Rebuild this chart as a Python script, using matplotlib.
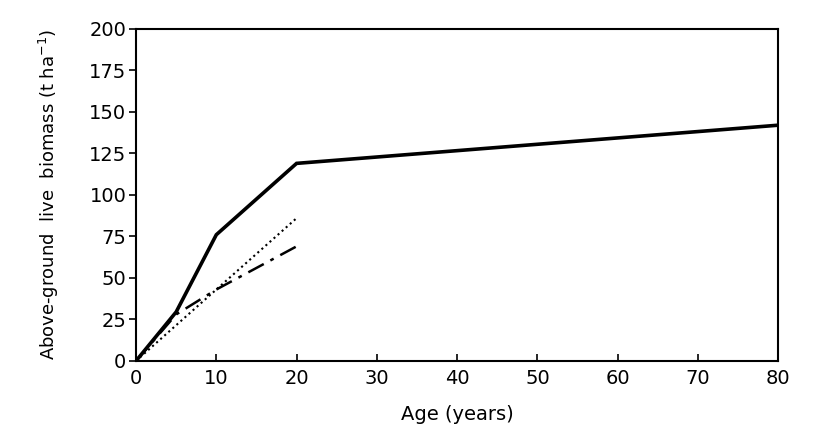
import matplotlib
matplotlib.use('Agg')
import matplotlib.pyplot as plt

# Data
age_total = [0, 5, 10, 20, 80]
biomass_total = [0, 29.5, 76, 119, 142]

age_dotted = [0, 20]
biomass_dotted = [0, 86]

age_dashdot = [0, 5, 10, 20]
biomass_dashdot = [0, 28, 43, 69]

xticks = [0, 10, 20, 30, 40, 50, 60, 70, 80]
yticks = [0, 25, 50, 75, 100, 125, 150, 175, 200]

plt.rcParams['font.family'] = ['DejaVu Sans']

fig = plt.figure(figsize=(8.33, 4.45), dpi=100)
ax = fig.add_axes([0.1633, 0.189, 0.771, 0.746])

ax.plot(age_total, biomass_total, color='black', linewidth=2.6, solid_joinstyle='miter')
ax.plot(age_dotted, biomass_dotted, color='black', linewidth=1.5, linestyle=(0, (1, 1.6)))
ax.plot(age_dashdot, biomass_dashdot, color='black', linewidth=1.8,
        linestyle=(0, (7, 3, 1.5, 3)))

ax.set_xlim(0, 80)
ax.set_ylim(0, 200)
ax.set_xticks(xticks)
ax.set_yticks(yticks)
ax.tick_params(axis='x', direction='in', length=5, width=1.2, labelsize=14, pad=6)
ax.tick_params(axis='y', direction='out', length=5, width=1.2, labelsize=14, pad=2)
for s in ax.spines.values():
    s.set_linewidth(1.5)

ax.set_xlabel('Age (years)', fontsize=14, labelpad=12)
ax.set_ylabel('Above-ground  live  biomass (t ha$^{-1}$)', fontsize=13, labelpad=20)

fig.savefig('out.png', dpi=100)
